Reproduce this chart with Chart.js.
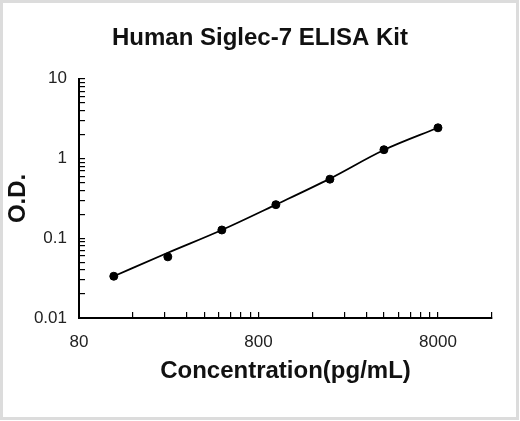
<!DOCTYPE html>
<html>
<head>
<meta charset="utf-8">
<script src="https://cdn.jsdelivr.net/npm/chart.js@4.4.1/dist/chart.umd.min.js"></script>
<style>
  html, body { margin: 0; padding: 0; background: #fff; }
  #wrap { width: 520px; height: 421px; }
</style>
</head>
<body>
<div id="wrap"><canvas id="canvas1"></canvas></div>
<script>
const concentrations = [125, 250, 500, 1000, 2000, 4000, 8000];
const odMeasured = [0.0334, 0.0585, 0.127, 0.264, 0.551, 1.29, 2.43];
const odCurve = [0.0334, 0.0658, 0.127, 0.264, 0.56, 1.28, 2.43];
const xTickLabels = [80, 800, 8000];
const yTickLabels = [0.01, 0.1, 1, 10];
const xRange = [80, 16000];
const yRange = [0.01, 10];

const canvas = document.getElementById('canvas1');
var ctx = canvas.getContext('2d');
Chart.defaults.font.family = "'Liberation Sans', Arial, sans-serif";

// tick marks at 1..9 times each labelled decade
function decadeTicks(starts, max) {
  const out = [];
  starts.forEach(d => {
    for (let k = 1; k <= 9; k++) {
      if (d * k <= max * 1.0001) out.push(d * k);
    }
  });
  if (out[out.length - 1] < max) out.push(max);
  return out;
}
function labelFor(list) {
  return function (value) {
    const hit = list.find(v => Math.abs(v - value) / v < 1e-6);
    return hit === undefined ? '' : String(hit);
  };
}

const frame = {
  id: 'frame',
  beforeDraw(chart) {
    const c = chart.ctx;
    c.save();
    c.fillStyle = '#fff';
    c.fillRect(0, 0, chart.width, chart.height);
    c.strokeStyle = '#dcdcdc';
    c.lineWidth = 3;
    c.strokeRect(1.5, 1.5, chart.width - 4, chart.height - 4);
    c.restore();
  }
};

const data = {
  datasets: [{
    label: 'Fit',
    data: concentrations.map((c, i) => ({x: c, y: odCurve[i]})),
    showLine: true,
    borderColor: '#000',
    borderWidth: 1.8,
    pointRadius: 0,
    cubicInterpolationMode: 'monotone',
    fill: false
  }, {
    label: 'O.D.',
    data: concentrations.map((c, i) => ({x: c, y: odMeasured[i]})),
    showLine: false,
    pointRadius: 4,
    pointBackgroundColor: '#000',
    pointBorderColor: '#000'
  }]
};

const options = {
  responsive: true,
  maintainAspectRatio: false,
  animation: false,
  layout: { padding: 0 },
  plugins: {
    legend: { display: false },
    tooltip: { enabled: false },
    title: {
      display: true,
      text: 'Human Siglec-7 ELISA Kit',
      color: '#111',
      font: { size: 24, weight: 'bold' },
      padding: { top: 24, bottom: 26 }
    }
  },
  scales: {
    x: {
      type: 'logarithmic',
      position: 'bottom',
      min: xRange[0],
      max: xRange[1],
      afterBuildTicks: s => { s.ticks = decadeTicks(xTickLabels, xRange[1]).map(v => ({value: v})); },
      afterFit: s => { s.height = 103; },
      grid: { drawOnChartArea: false, drawTicks: true, tickLength: -6, color: '#000', lineWidth: 1.2 },
      border: { display: true, color: '#000', width: 2 },
      ticks: { autoSkip: false, maxRotation: 0, padding: 20, color: '#222', font: { size: 17 }, callback: labelFor(xTickLabels) },
      title: { display: true, text: 'Concentration(pg/mL)', color: '#111', font: { size: 24, weight: 'bold' }, padding: { top: 0, bottom: 35 } }
    },
    y: {
      type: 'logarithmic',
      position: 'left',
      min: yRange[0],
      max: yRange[1],
      afterBuildTicks: s => { s.ticks = decadeTicks(yTickLabels, yRange[1]).map(v => ({value: v})); },
      afterFit: s => { s.width = 79; },
      grid: { drawOnChartArea: false, drawTicks: true, tickLength: -6, color: '#000', lineWidth: 1.2 },
      border: { display: true, color: '#000', width: 2 },
      ticks: { autoSkip: false, padding: 18, color: '#222', font: { size: 17 }, callback: labelFor(yTickLabels) },
      title: { display: true, text: 'O.D.', color: '#111', font: { size: 24, weight: 'bold' }, padding: { top: 4, bottom: 0 } }
    },
    // empty right margin so the title centres like the original
    side: {
      type: 'linear',
      position: 'right',
      display: true,
      afterFit: s => { s.width = 28; },
      grid: { display: false },
      border: { display: false },
      ticks: { display: false }
    }
  }
};

const config = {
  type: 'scatter',
  data: data,
  options: options,
  plugins: [frame]
};
var myChart = new Chart(ctx, config);
</script>
</body>
</html>
